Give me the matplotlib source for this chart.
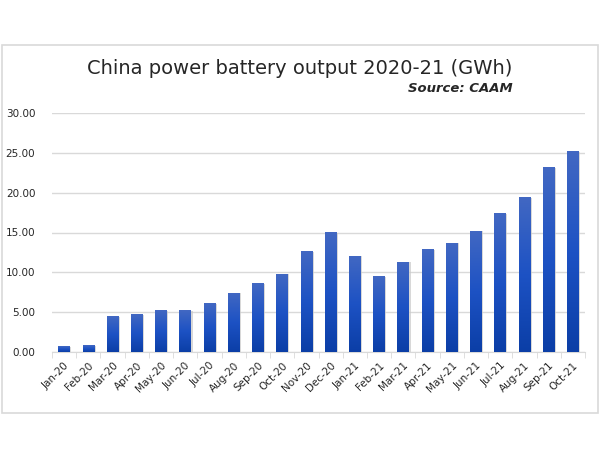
import numpy as np
import matplotlib.pyplot as plt
from matplotlib.patches import Rectangle
from matplotlib.colors import LinearSegmentedColormap

months = ["Jan-20", "Feb-20", "Mar-20", "Apr-20", "May-20", "Jun-20", "Jul-20",
          "Aug-20", "Sep-20", "Oct-20", "Nov-20", "Dec-20", "Jan-21", "Feb-21",
          "Mar-21", "Apr-21", "May-21", "Jun-21", "Jul-21", "Aug-21", "Sep-21",
          "Oct-21"]
output_gwh = [0.75, 0.87, 4.48, 4.73, 5.23, 5.23, 6.10, 7.43, 8.63, 9.83, 12.66,
              15.06, 12.07, 9.50, 11.33, 12.90, 13.73, 15.23, 17.39, 19.46,
              23.20, 25.19]
yticks = [0, 5, 10, 15, 20, 25, 30]

text_col = "#262626"
grid_col = "#d9d9d9"
grad = LinearSegmentedColormap.from_list("bar", ["#0b3ea6", "#1d52c4", "#4268c2"])

fig = plt.figure(figsize=(6, 4.5), dpi=100)
ax = fig.add_axes([52 / 600, 1 - 352 / 450, 533 / 600, 239 / 450])

# outer frame around the whole chart
fig.patches.append(Rectangle((2 / 600, 1 - 413 / 450), 596 / 600, 368 / 450,
                             transform=fig.transFigure, fill=False,
                             edgecolor=grid_col, linewidth=1.2))

x = np.arange(len(months))
bars = ax.bar(x, output_gwh, width=0.48, color="none", zorder=3)

# shadow + vertical gradient inside each bar
gradient = np.linspace(0, 1, 256).reshape(-1, 1)
for b in bars:
    bx, by = b.get_x(), b.get_y()
    bw, bh = b.get_width(), b.get_height()
    ax.add_patch(Rectangle((bx + 0.06, by), bw, bh - 0.08, facecolor="#c8c8c8",
                           edgecolor="none", alpha=0.7, zorder=2))
    im = ax.imshow(gradient, cmap=grad, aspect="auto", origin="lower",
                   extent=(bx, bx + bw, by, by + bh), zorder=3)
    im.set_clip_path(b)

ax.set_xlim(-0.5, len(months) - 0.5)
ax.set_ylim(0, 30)
ax.set_yticks(yticks)
ax.set_yticklabels([f"{v:.2f}" for v in yticks])
ax.yaxis.grid(True, color=grid_col, linewidth=1)
ax.set_axisbelow(True)

ax.set_xticks(x)
ax.set_xticklabels(months, rotation=45, ha="right", rotation_mode="anchor")
ax.set_xticks(np.arange(-0.5, len(months), 1), minor=True)
ax.tick_params(axis="x", which="major", length=0, pad=6, labelsize=7.5,
               labelcolor=text_col)
ax.tick_params(axis="x", which="minor", length=4, color=grid_col)
ax.tick_params(axis="y", length=0, pad=12, labelsize=7.5, labelcolor=text_col)

for s in ["top", "right", "left"]:
    ax.spines[s].set_visible(False)
ax.spines["bottom"].set_color(grid_col)

fig.text(0.5, 1 - 69 / 450, "China power battery output 2020-21 (GWh)",
         ha="center", va="center", fontsize=14, color=text_col)
fig.text(513 / 600, 1 - 88 / 450, "Source: CAAM", ha="right", va="center",
         fontsize=9.5, fontweight="bold", fontstyle="italic", color=text_col)

fig.savefig("out.png", dpi=100)
